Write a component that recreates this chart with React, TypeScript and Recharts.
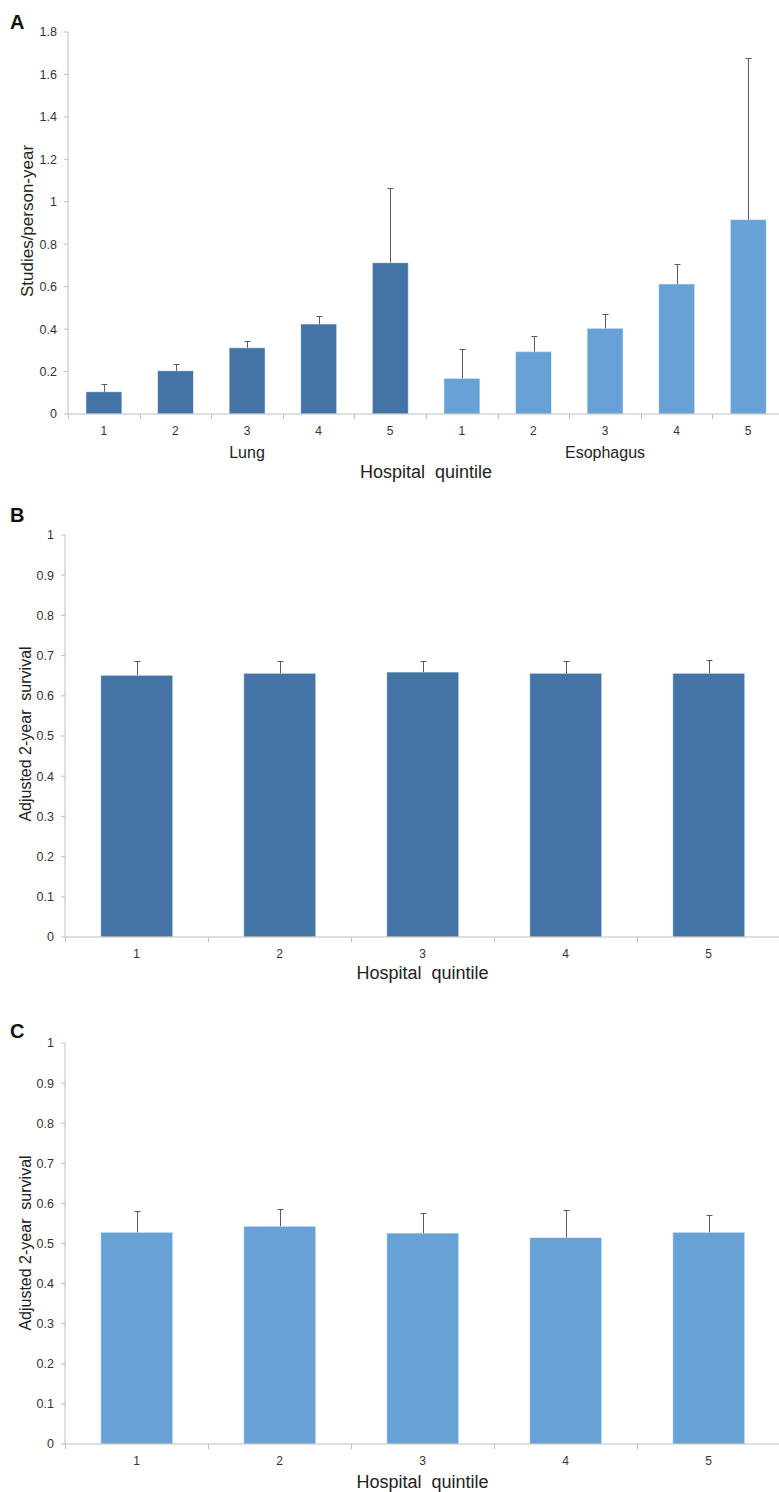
import { BarChart, Bar, XAxis, YAxis, Cell } from 'recharts';

// ---- data ----
const quintiles = ['1', '2', '3', '4', '5'];

// Panel A: imaging studies per person-year (bar value and upper error limit)
const lungStudies = [0.105, 0.204, 0.312, 0.424, 0.713];
const lungStudiesUpper = [0.14, 0.237, 0.344, 0.462, 1.063];
const esoStudies = [0.168, 0.294, 0.404, 0.613, 0.916];
const esoStudiesUpper = [0.306, 0.366, 0.473, 0.708, 1.679];

// Panel B: lung, adjusted 2-year survival
const lungSurvival = [0.651, 0.656, 0.659, 0.656, 0.656];
const lungSurvivalUpper = [0.687, 0.687, 0.686, 0.686, 0.69];

// Panel C: esophagus, adjusted 2-year survival
const esoSurvival = [0.528, 0.543, 0.526, 0.515, 0.528];
const esoSurvivalUpper = [0.581, 0.586, 0.577, 0.584, 0.572];

const studiesTicks = [0, 0.2, 0.4, 0.6, 0.8, 1, 1.2, 1.4, 1.6, 1.8];
const survivalTicks = [0, 0.1, 0.2, 0.3, 0.4, 0.5, 0.6, 0.7, 0.8, 0.9, 1];

// ---- styling ----
const FONT = '"Liberation Sans", Arial, Helvetica, sans-serif';
const DARK = '#4474a5';
const LIGHT = '#68a1d5';
const AXIS = '#bfbfbf';
const ERR = '#5a5a5a';
const INK = '#222';
const CHART_W = 800;

type Row = { id: string; q: string; value: number; err: number; color: string };

const buildRows = (prefix: string, values: number[], upper: number[], color: string): Row[] =>
  values.map((v, i) => ({
    id: prefix + quintiles[i],
    q: quintiles[i],
    value: v,
    err: +(upper[i] - v).toFixed(3),
    color,
  }));

const rowsA = [
  ...buildRows('L', lungStudies, lungStudiesUpper, DARK),
  ...buildRows('E', esoStudies, esoStudiesUpper, LIGHT),
];
const rowsB = buildRows('L', lungSurvival, lungSurvivalUpper, DARK);
const rowsC = buildRows('E', esoSurvival, esoSurvivalUpper, LIGHT);

// one-sided error bar drawn on the stacked "err" segment
const ErrShape = (props: any) => {
  const { x, y, width, height } = props;
  if (!height) return null;
  const cx = Math.round(x + width / 2) + 0.5;
  const top = Math.round(y) + 0.5;
  return (
    <g>
      <line x1={cx} y1={top} x2={cx} y2={y + height} stroke={ERR} strokeWidth={1} />
      <line x1={cx - 3} y1={top} x2={cx + 3} y2={top} stroke={ERR} strokeWidth={1} />
    </g>
  );
};

// x tick: quintile number, boundary tick marks, optional group label
const QuintileTick = (props: any) => {
  const { x, y, index, rows, band, groups } = props;
  const left = Math.round(x - band / 2) + 0.5;
  const right = Math.round(x + band / 2) + 0.5;
  const group = groups ? groups.find((g: any) => g.at === index) : null;
  return (
    <g>
      <line x1={left} y1={y} x2={left} y2={y + 5} stroke={AXIS} />
      {index === rows.length - 1 && <line x1={right} y1={y} x2={right} y2={y + 5} stroke={AXIS} />}
      <text x={x} y={y + 21} textAnchor="middle" fontSize={12} fill="#333" fontFamily={FONT}>
        {rows[index] ? rows[index].q : ''}
      </text>
      {group && (
        <text x={x} y={y + 43.5} textAnchor="middle" fontSize={16} fill={INK} fontFamily={FONT}>
          {group.label}
        </text>
      )}
    </g>
  );
};

// fixed texts: panel letter, y title, x title
const PanelTexts = (props: any) => {
  const { letter, letterY, yTitle, yTitleX, yTitleY, yTitleSize, xTitleX, xTitleY } = props;
  return (
    <g fontFamily={FONT}>
      <text x={10} y={letterY} fontSize={20} fontWeight="bold" fill="#111">
        {letter}
      </text>
      <text
        x={yTitleX}
        y={yTitleY}
        transform={`rotate(-90, ${yTitleX}, ${yTitleY})`}
        textAnchor="middle"
        dominantBaseline="central"
        fontSize={yTitleSize}
        fill={INK}
        xmlSpace="preserve"
      >
        {yTitle}
      </text>
      <text x={xTitleX} y={xTitleY} textAnchor="middle" fontSize={18} fill={INK} xmlSpace="preserve">
        {'Hospital  quintile'}
      </text>
    </g>
  );
};

function Panel({ rows, ticks, layout, texts, groups }: any) {
  const { top, height, plotLeft, plotTop, plotBottom, plotRight } = layout;
  const band = (plotRight - plotLeft) / rows.length;
  return (
    <div style={{ position: 'absolute', left: 0, top, width: CHART_W, height }}>
      <BarChart
        width={CHART_W}
        height={height}
        data={rows}
        margin={{ top: plotTop, right: CHART_W - plotRight, bottom: 0, left: 0 }}
        barCategoryGap="25%"
      >
        <XAxis
          dataKey="id"
          height={height - plotBottom}
          interval={0}
          axisLine={{ stroke: AXIS }}
          tickLine={false}
          tickSize={0}
          tickMargin={0}
          tick={(p: any) => <QuintileTick {...p} rows={rows} band={band} groups={groups} />}
          label={
            <PanelTexts
              {...texts}
              xTitleX={(plotLeft + plotRight) / 2}
              xTitleY={plotBottom + texts.xTitleDy}
            />
          }
        />
        <YAxis
          width={plotLeft}
          domain={[ticks[0], ticks[ticks.length - 1]]}
          ticks={ticks}
          interval={0}
          axisLine={{ stroke: AXIS }}
          tickLine={{ stroke: AXIS }}
          tickSize={4}
          tickMargin={7}
          tick={{ fill: '#333', fontSize: 12.5, fontFamily: FONT }}
        />
        <Bar dataKey="value" stackId="s" stroke="rgba(255,255,255,0.55)" strokeWidth={1} isAnimationActive={false}>
          {rows.map((r: Row) => (
            <Cell key={r.id} fill={r.color} />
          ))}
        </Bar>
        <Bar dataKey="err" stackId="s" fill="none" shape={<ErrShape />} isAnimationActive={false} />
      </BarChart>
    </div>
  );
}

export default function App() {
  return (
    <div
      style={{
        position: 'absolute',
        left: 0,
        top: 0,
        width: 779,
        height: 1492,
        overflow: 'hidden',
        background: '#fff',
        fontFamily: FONT,
      }}
    >
      <Panel
        rows={rowsA}
        ticks={studiesTicks}
        layout={{ top: 0, height: 490, plotLeft: 68, plotTop: 32, plotBottom: 414, plotRight: 784 }}
        groups={[
          { at: 2, label: 'Lung' },
          { at: 7, label: 'Esophagus' },
        ]}
        texts={{
          letter: 'A',
          letterY: 29,
          yTitle: 'Studies/person-year',
          yTitleX: 27,
          yTitleY: 221,
          yTitleSize: 17,
          xTitleDy: 64,
        }}
      />
      <Panel
        rows={rowsB}
        ticks={survivalTicks}
        layout={{ top: 490, height: 510, plotLeft: 65, plotTop: 45, plotBottom: 447, plotRight: 780 }}
        texts={{
          letter: 'B',
          letterY: 32,
          yTitle: 'Adjusted 2-year  survival',
          yTitleX: 25,
          yTitleY: 244,
          yTitleSize: 16,
          xTitleDy: 42,
        }}
      />
      <Panel
        rows={rowsC}
        ticks={survivalTicks}
        layout={{ top: 1000, height: 492, plotLeft: 65, plotTop: 43, plotBottom: 444, plotRight: 780 }}
        texts={{
          letter: 'C',
          letterY: 38,
          yTitle: 'Adjusted 2-year  survival',
          yTitleX: 25,
          yTitleY: 243,
          yTitleSize: 16,
          xTitleDy: 44,
        }}
      />
    </div>
  );
}
